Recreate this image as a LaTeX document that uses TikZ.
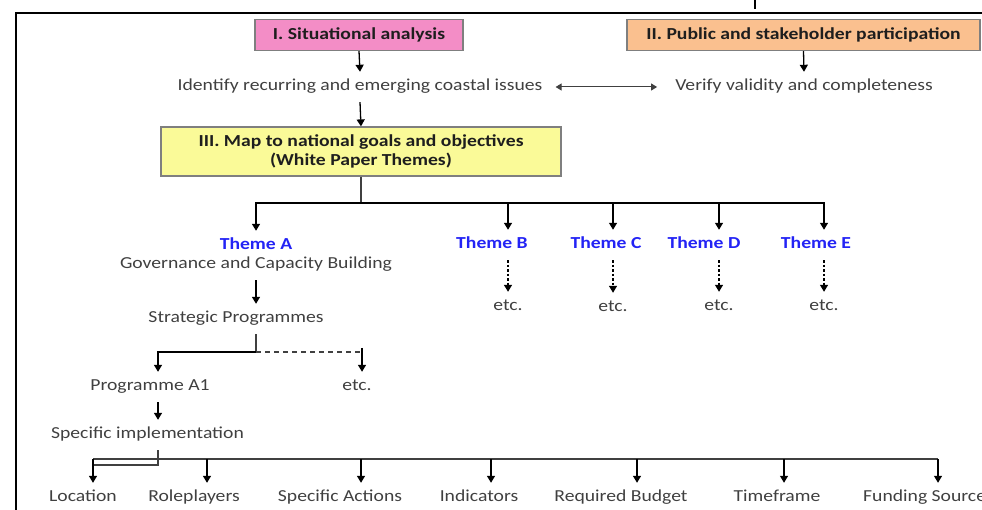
\documentclass[tikz,border=0pt]{standalone}
\usepackage{fontspec}
\setmainfont{Carlito}[FakeStretch=1.17]
\usetikzlibrary{arrows.meta}
\definecolor{txtgray}{HTML}{404040}
\definecolor{boxgray}{HTML}{7F7F7F}
\definecolor{boxtext}{HTML}{1E1E1E}
\definecolor{pinkfill}{HTML}{F38DC6}
\definecolor{orangefill}{HTML}{FAC08F}
\definecolor{yellowfill}{HTML}{FAFA98}
\definecolor{themeblue}{HTML}{2323F5}
\definecolor{linegray}{HTML}{404040}
\tikzset{
  txt/.style={font=\fontsize{16.8}{19}\selectfont, text=txtgray, inner xsep=2pt, inner ysep=7.5pt, text height=11pt, text depth=4pt},
  thm/.style={txt, text=themeblue, font=\fontsize{16.8}{19}\selectfont\bfseries},
  boxst/.style={draw=boxgray, line width=1.2pt, font=\fontsize{16.8}{19}\selectfont\bfseries, text=boxtext, align=center, inner sep=2pt},
  arr/.style={draw=black, line width=1.3pt, -{Triangle[length=7pt,width=8pt]}},
  darr/.style={arr, dash pattern=on 2.5pt off 2pt},
  bus/.style={draw=linegray, line width=1.6pt},
  dbl/.style={draw=linegray, line width=1pt, {Triangle[length=6pt,width=7pt]}-{Triangle[length=6pt,width=7pt]}},
}
\begin{document}
\begin{tikzpicture}[x=1pt,y=-1pt]
\useasboundingbox (0,0) rectangle (982,510);
% frame
\draw[line width=2pt] (16,510) -- (16,13) -- (982,13);
\draw[line width=1.5pt] (755,0) -- (755,9);

% top boxes
\node[boxst, fill=pinkfill, minimum width=208pt, minimum height=31pt] (b1) at (359,35) {I. Situational analysis};
\node[boxst, fill=orangefill, minimum width=353pt, minimum height=31pt] (b2) at (803.5,35) {II. Public and stakeholder participation};
\node[txt] (ident) at (360,87) {Identify recurring and emerging coastal issues};
\node[txt] (verif) at (804,87) {Verify validity and completeness};
\node[boxst, fill=yellowfill, minimum width=400pt, minimum height=49pt] (b3) at (361,151.5) {III. Map to national goals and objectives\\(White Paper Themes)};

\draw[arr] (b1.south) -- (ident.north);
\draw[arr] (b2.south) -- (verif.north);
\draw[dbl, shorten <=11pt, shorten >=16pt] (ident.east) -- (verif.west);
\draw[arr] (ident.south) -- (b3.north);

% themes
\coordinate (j1) at (361,203);
\node[thm] (thA) at (256,246) {Theme A};
\node[txt] (gov) at (256,265) {Governance and Capacity Building};
\node[thm] (thB) at (492,245) {Theme B};
\node[thm] (thC) at (606,245) {Theme C};
\node[thm] (thD) at (704,245) {Theme D};
\node[thm] (thE) at (816,245) {Theme E};
\node[txt] (eB) at (508,307) {etc.};
\node[txt] (eC) at (613,308) {etc.};
\node[txt] (eD) at (719,307) {etc.};
\node[txt] (eE) at (824,307) {etc.};

\draw[bus] (b3.south) -- (j1);
\draw[arr] (j1) -| (thA.north);
\draw[arr] (j1) -| (eB |- thB.north);
\draw[arr] (j1) -| (eC |- thC.north);
\draw[arr] (j1) -| (eD |- thD.north);
\draw[arr] (j1) -| (eE |- thE.north);
\draw[darr] (eB |- thB.south) -- (eB.north);
\draw[darr] (eC |- thC.south) -- (eC.north);
\draw[darr] (eD |- thD.south) -- (eD.north);
\draw[darr] (eE |- thE.south) -- (eE.north);

% strategic programmes
\node[txt] (strat) at (236,319) {Strategic Programmes};
\draw[arr] (gov.south) -- (gov.south |- strat.north);
\coordinate (j2) at (256,352);
\coordinate (xA) at (158,352);
\coordinate (xE) at (362,352);
\node[txt] (prog) at (150,387) {Programme A1};
\node[txt] (etc2) at (357,387) {etc.};
\draw[bus] (gov.south |- strat.south) -- (j2);
\draw[arr] (j2) -| (xA |- prog.north);
\draw[bus, dash pattern=on 5pt off 4pt] (j2) -- (xE);
\draw[arr] ([yshift=4pt]xE) -- (xE |- etc2.north);

% specific implementation
\node[txt] (impl) at (147.5,435) {Specific implementation};
\draw[arr] (xA |- prog.south) -- (xA |- impl.north);

\coordinate (k1) at (158,465);
\coordinate (k2) at (93,465);
\coordinate (p1) at (93,459);
\coordinate (p2) at (207,459);
\coordinate (p3) at (361,459);
\coordinate (p4) at (491,459);
\coordinate (p5) at (637,459);
\coordinate (p6) at (784,459);
\coordinate (p7) at (938,459);

\node[txt] (loc) at (83,498) {Location};
\node[txt] (role) at (194,498) {Roleplayers};
\node[txt] (acts) at (340,498) {Specific Actions};
\node[txt] (ind) at (479,498) {Indicators};
\node[txt] (bud) at (621,498) {Required Budget};
\node[txt] (time) at (777,498) {Timeframe};
\node[txt, anchor=west, inner xsep=0pt] (fund) at (863,498) {Funding Source};

\draw[bus] (xA |- impl.south) -- (k1) -- (k2);
\draw[bus] (p1) -- (p7);
\draw[arr] (p1) -- (p1 |- loc.north);
\draw[arr] (p2) -- (p2 |- role.north);
\draw[arr] (p3) -- (p3 |- acts.north);
\draw[arr] (p4) -- (p4 |- ind.north);
\draw[arr] (p5) -- (p5 |- bud.north);
\draw[arr] (p6) -- (p6 |- time.north);
\draw[arr] (p7) -- (p7 |- fund.north);
\end{tikzpicture}
\end{document}
